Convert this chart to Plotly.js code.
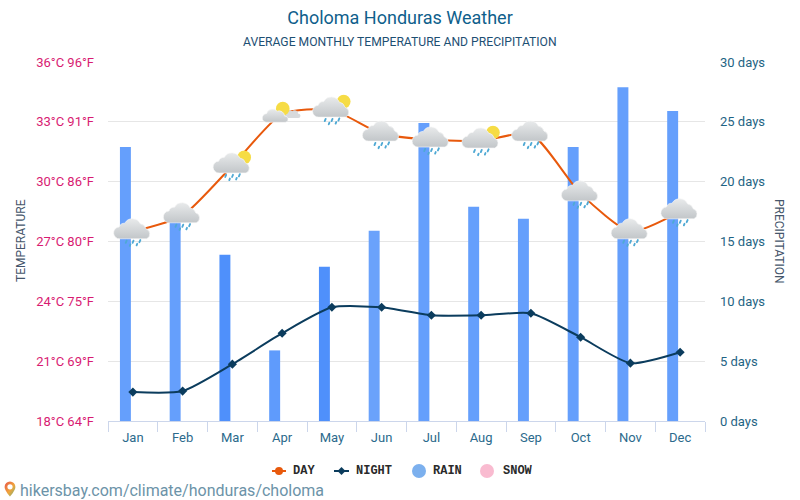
<!DOCTYPE html>
<html>
<head>
<meta charset="utf-8">
<script src="https://cdn.plot.ly/plotly-3.0.1.min.js"></script>
<style>html,body{margin:0;padding:0;background:#fff}#chart{width:800px;height:500px}</style>
</head>
<body>
<div id="chart"></div>
<script>
const months = ['Jan','Feb','Mar','Apr','May','Jun','Jul','Aug','Sep','Oct','Nov','Dec'];
const dayTemp = [27.5,28.3,30.8,33.4,33.6,32.4,32.1,32.05,32.4,29.4,27.5,28.5];
const nightTemp = [19.45,19.5,20.85,22.4,23.7,23.7,23.3,23.3,23.4,22.2,20.9,21.45];
const rainDays = [22.9,17,13.9,5.9,12.9,15.9,24.9,17.9,16.9,22.9,27.9,25.9];
const weather = ['rain','rain','sunrain','sun','sunrain','rain','rain','sunrain','rain','rain','rain','rain'];
const tempTicks = [18,21,24,27,30,33,36];
const tempLabels = ['18°C 64°F','21°C 69°F','24°C 75°F','27°C 80°F','30°C 86°F','33°C 91°F','36°C 96°F'];
const rainTicks = [0,5,10,15,20,25,30];
const rainLabels = ['0 days','5 days','10 days','15 days','20 days','25 days','30 days'];
const rainColors = ['#659ffc','#659ffc','#4f90fb','#5f9bfc','#4f90fb','#6aa2fb','#659ffc','#659ffc','#659ffc','#659ffc','#659ffc','#659ffc'];
const legendNames = ['DAY','NIGHT','RAIN','SNOW'];

const FONT = 'Roboto, sans-serif';
const defs = '<defs><linearGradient id="c" x1="0" y1="0" x2="0" y2="1"><stop offset="0" stop-color="#e8eaeb"/><stop offset="1" stop-color="#c2c6c9"/></linearGradient></defs>';
const cloud = '<path d="M11 36a9.500 9.500 0 0 1-1-19a9 9 0 0 1 9-6a14 14 0 0 1 25 1a11 11 0 0 1 9 8a8.500 8.500 0 0 1 1 16z" fill="url(#c)" stroke="#f7f7f7" stroke-width="1"/>';
const drops = '<g stroke="#4fa9d4" stroke-width="3" stroke-linecap="round"><path d="M22 39l-1.500 3.500M33 39l-1.500 3.500M44 38l-1.500 3.500M28 45l-1 2.500M39 44l-1 2.500"/></g>';
const sun = '<circle cx="51" cy="11" r="11" fill="#f6dc45"/>';
const smallCloud = '<path d="M38 31a4 4 0 0 1 0-9a7 7 0 0 1 10-2a6 6 0 0 1 10 4a3.500 3.500 0 0 1 0 7z" fill="#d8dadc"/><circle cx="33" cy="16" r="11" fill="#f6dc45"/><path d="M7 38a7 7 0 0 1 0-14a10 10 0 0 1 17-4a9 9 0 0 1 12 8a5 5 0 0 1 1 10z" fill="url(#c)" stroke="#f7f7f7" stroke-width="1"/>';
const iconBody = {
  rain: cloud + drops,
  sunrain: sun + cloud + drops,
  sun: smallCloud
};
function iconUri(kind){
  const svg = '<svg xmlns="http://www.w3.org/2000/svg" width="64" height="50" viewBox="0 0 64 50">' + defs + iconBody[kind] + '</svg>';
  return 'data:image/svg+xml;charset=utf-8,' + encodeURIComponent(svg);
}
const pin = '<svg xmlns="http://www.w3.org/2000/svg" width="12" height="16" viewBox="0 0 12 16"><defs><linearGradient id="p" x1="0" y1="0" x2="1" y2="1"><stop offset="0" stop-color="#e8534a"/><stop offset="0.55" stop-color="#f0a63c"/><stop offset="1" stop-color="#6fb07a"/></linearGradient></defs><path d="M6 .5a5.400 5.400 0 0 0-5.400 5.400c0 3.600 5.400 9.600 5.400 9.600s5.400-6 5.400-9.600A5.400 5.400 0 0 0 6 .5z" fill="url(#p)"/><circle cx="6" cy="5.800" r="2.600" fill="#fff"/></svg>';

// page-pixel helpers for furniture that sits outside the plot area
const L = 108, T = 62, W = 597, H = 359;
const px = v => (v - L) / W;
const py = v => (T + H - v) / H;

const rainBars = {type:'bar', name:'RAIN', x:months, y:rainDays, yaxis:'y', xaxis:'x',
  marker:{color:rainColors}, width:0.22, offset:-0.26, showlegend:false};
const dayLine = {type:'scatter', mode:'lines', name:'DAY', x:months, y:dayTemp, yaxis:'y2', showlegend:false,
  line:{color:'#e8590c', width:2, shape:'spline', smoothing:0.6}};
const nightLine = {type:'scatter', mode:'lines+markers', name:'NIGHT', x:months, y:nightTemp, yaxis:'y2', showlegend:false,
  line:{color:'#0b3c5d', width:2, shape:'spline', smoothing:0.6}, marker:{symbol:'diamond', size:7, color:'#0b3c5d'}};

const legendText = [292, 355, 432, 502];
const lineKey = (x0, x1, y, color) => ({type:'line', xref:'paper', yref:'paper', x0:px(x0), x1:px(x1), y0:py(y), y1:py(y), line:{color, width:2}});
const dotKey = (cx, y, r, color) => ({type:'circle', xref:'paper', yref:'paper', x0:px(cx-r), x1:px(cx+r), y0:py(y-r), y1:py(y+r), fillcolor:color, line:{width:0}});
const diamondKey = (cx, y, r, color) => ({type:'path', xref:'paper', yref:'paper', fillcolor:color, line:{width:0},
  path:`M${px(cx)} ${py(y-r)} L${px(cx+r)} ${py(y)} L${px(cx)} ${py(y+r)} L${px(cx-r)} ${py(y)} Z`});

const layout = {
  width:800, height:500,
  margin:{l:L, r:800-L-W, t:T, b:500-T-H},
  paper_bgcolor:'#fff', plot_bgcolor:'#fff',
  font:{family:FONT},
  showlegend:false,
  title:{text:'Choloma Honduras Weather', x:0.5, xref:'container', xanchor:'center', y:0.965, yanchor:'middle',
    font:{family:FONT, size:18, color:'#0f5f8c'}},
  xaxis:{type:'category', categoryorder:'array', categoryarray:months, range:[-0.5,11.5], tickson:'boundaries',
    ticks:'outside', ticklen:10, tickcolor:'#ccd6eb', tickwidth:1, showline:true, linecolor:'#ccd6eb', linewidth:1,
    showgrid:false, zeroline:false, ticklabelstandoff:4, tickfont:{family:FONT, size:13, color:'#2b6a8c'}},
  yaxis:{side:'right', range:[0,30], tickvals:rainTicks, ticktext:rainLabels, showgrid:true, gridcolor:'#e6e6e6', gridwidth:1,
    zeroline:false, showline:false, ticks:'', ticklabelstandoff:14, tickfont:{family:FONT, size:13, color:'#1f6484'}},
  yaxis2:{side:'left', overlaying:'y', range:[18,36], tickvals:tempTicks, ticktext:tempLabels, showgrid:false,
    zeroline:false, showline:false, ticks:'', ticklabelstandoff:13, tickfont:{family:FONT, size:13, color:'#d81b72'}},
  annotations:[
    {text:'AVERAGE MONTHLY TEMPERATURE AND PRECIPITATION', xref:'paper', yref:'paper', x:px(400), y:py(42),
      xanchor:'center', yanchor:'middle', showarrow:false, font:{family:FONT, size:12.15, color:'#1d4f73'}},
    {text:'TEMPERATURE', xref:'paper', yref:'paper', x:px(21), y:py(241), textangle:-90,
      xanchor:'center', yanchor:'middle', showarrow:false, font:{family:FONT, size:12, color:'#45566b'}},
    {text:'PRECIPITATION', xref:'paper', yref:'paper', x:px(779), y:py(241), textangle:90,
      xanchor:'center', yanchor:'middle', showarrow:false, font:{family:FONT, size:12, color:'#45566b'}},
    {text:'hikersbay.com/climate/honduras/choloma', xref:'paper', yref:'paper', x:px(18), y:py(490),
      xanchor:'left', yanchor:'middle', showarrow:false, font:{family:FONT, size:16, color:'#6c93a8'}}
  ].concat(legendNames.map((n,i)=>({text:n, xref:'paper', yref:'paper', x:px(legendText[i]-1), y:py(471),
      xanchor:'left', yanchor:'middle', showarrow:false,
      font:{family:'Liberation Mono, monospace', size:12, weight:700, color:'#2a2a2a'}}))),
  shapes:[
    lineKey(272,286,471,'#e8590c'), dotKey(279,471,4,'#e8590c'),
    lineKey(334,349,471,'#0b3c5d'), diamondKey(341.5,471,4,'#0b3c5d'),
    dotKey(419,471,7,'#7cb0ee'), dotKey(487,471,7,'#f9bbd0')
  ],
  images: months.map((m,i)=>({source:iconUri(weather[i]), xref:'x', yref:'y2', x:i, y:dayTemp[i]-0.02,
      sizex:0.8, sizey:1.6, xanchor:'center', yanchor:'middle', sizing:'contain', layer:'above'}))
    .concat([{source:'data:image/svg+xml;charset=utf-8,'+encodeURIComponent(pin), xref:'paper', yref:'paper',
      x:px(4), y:py(481), sizex:12/W, sizey:16/H, xanchor:'left', yanchor:'top', layer:'above'}])
};
Plotly.newPlot('chart',[rainBars,dayLine,nightLine],layout,{displayModeBar:false,responsive:false});
</script>
</body>
</html>
